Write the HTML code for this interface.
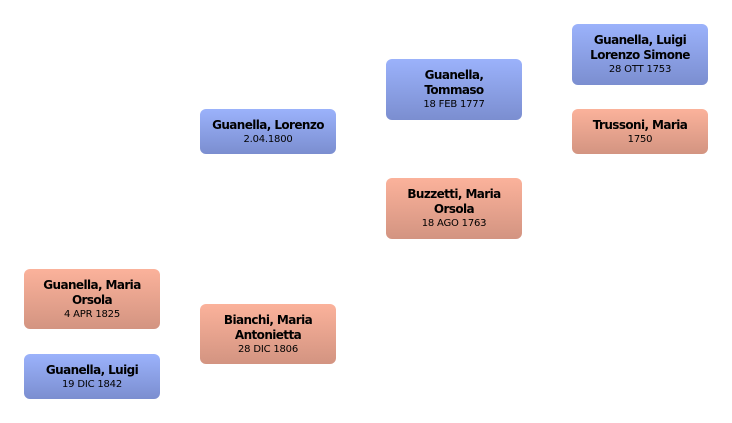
<!DOCTYPE html>
<html><head><style>
body{margin:0;width:732px;height:423px;background:#fff;position:relative;overflow:hidden;font-family:"DejaVu Sans","Liberation Sans",sans-serif;}
.b{position:absolute;width:136px;border-radius:6px;display:flex;flex-direction:column;justify-content:center;align-items:center;text-align:center;color:#000;box-sizing:border-box;padding:0 4px;}
.m{background:linear-gradient(#9bb2fb,#7b8ed0);}
.f{background:linear-gradient(#fbb29b,#d39481);}
.n{font-weight:bold;font-size:12px;line-height:15px;letter-spacing:-0.6px;}
.d{font-size:10px;line-height:13px;letter-spacing:-0.2px;}
</style></head><body>
<div class="b m" style="left:572px;top:24px;height:61px"><div class="n">Guanella, Luigi<br>Lorenzo Simone</div><div class="d">28 OTT 1753</div></div>
<div class="b f" style="left:572px;top:109px;height:45px"><div class="n">Trussoni, Maria</div><div class="d">1750</div></div>
<div class="b m" style="left:386px;top:59px;height:61px"><div class="n">Guanella,<br>Tommaso</div><div class="d">18 FEB 1777</div></div>
<div class="b f" style="left:386px;top:178px;height:61px"><div class="n">Buzzetti, Maria<br>Orsola</div><div class="d">18 AGO 1763</div></div>
<div class="b m" style="left:200px;top:109px;height:45px"><div class="n">Guanella, Lorenzo</div><div class="d">2.04.1800</div></div>
<div class="b f" style="left:200px;top:304px;height:60px"><div class="n">Bianchi, Maria<br>Antonietta</div><div class="d">28 DIC 1806</div></div>
<div class="b f" style="left:24px;top:269px;height:60px"><div class="n">Guanella, Maria<br>Orsola</div><div class="d">4 APR 1825</div></div>
<div class="b m" style="left:24px;top:354px;height:45px"><div class="n">Guanella, Luigi</div><div class="d">19 DIC 1842</div></div>
</body></html>
